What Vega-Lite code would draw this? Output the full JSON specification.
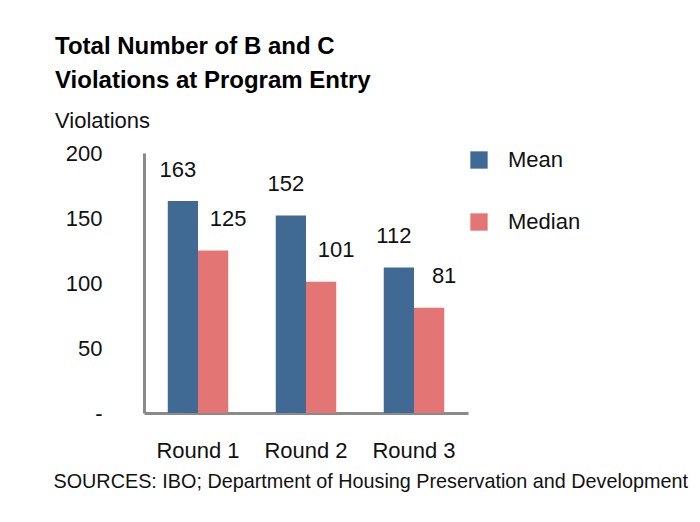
{
  "$schema": "https://vega.github.io/schema/vega-lite/v6.json",
  "autosize": {"type": "none"},
  "width": 324,
  "height": 260,
  "padding": {"left": 144, "top": 153, "right": 232, "bottom": 109},
  "background": "white",
  "data": {"values": [
    {"round": "Round 1", "stat": "Mean", "value": 163},
    {"round": "Round 1", "stat": "Median", "value": 125},
    {"round": "Round 2", "stat": "Mean", "value": 152},
    {"round": "Round 2", "stat": "Median", "value": 101},
    {"round": "Round 3", "stat": "Mean", "value": 112},
    {"round": "Round 3", "stat": "Median", "value": 81}
  ]},
  "title": {
    "text": ["Total Number of B and C", "Violations at Program Entry"],
    "subtitle": "Violations",
    "anchor": "start",
    "frame": "group",
    "dx": -89,
    "font": "Liberation Sans",
    "fontSize": 24,
    "fontWeight": "bold",
    "lineHeight": 34,
    "color": "#000000",
    "subtitleFont": "Liberation Sans",
    "subtitleFontSize": 22,
    "subtitleColor": "#111111",
    "subtitlePadding": 18,
    "offset": 10
  },
  "encoding": {
    "x": {
      "field": "round",
      "type": "nominal",
      "scale": {"paddingInner": 0.44, "paddingOuter": 0.22},
      "axis": {
        "title": "SOURCES: IBO; Department of Housing Preservation and Development",
        "titleFont": "Liberation Sans",
        "titleFontSize": 19.8,
        "titleFontWeight": "normal",
        "titleColor": "#111111",
        "titleAnchor": "start",
        "titleAlign": "left",
        "titleX": -91,
        "titleY": 68,
        "titleBaseline": "middle",
        "labelAngle": 0,
        "labelFont": "Liberation Sans",
        "labelFontSize": 22,
        "labelColor": "#111111",
        "labelPadding": 27,
        "ticks": false,
        "domainColor": "#8a8a8a",
        "domainWidth": 3
      }
    },
    "xOffset": {"field": "stat", "type": "nominal"},
    "y": {
      "field": "value",
      "type": "quantitative",
      "scale": {"domain": [0, 200]},
      "axis": {
        "title": null,
        "values": [0, 50, 100, 150, 200],
        "labelExpr": "datum.value == 0 ? '-' : datum.label",
        "labelFont": "Liberation Sans",
        "labelFontSize": 22,
        "labelColor": "#111111",
        "labelPadding": 42,
        "ticks": false,
        "grid": false,
        "domainColor": "#8a8a8a",
        "domainWidth": 3
      }
    }
  },
  "layer": [
    {
      "mark": {"type": "bar"},
      "encoding": {
        "color": {
          "field": "stat",
          "type": "nominal",
          "scale": {"domain": ["Mean", "Median"], "range": ["#406A94", "#E47575"]},
          "legend": {
            "title": null,
            "orient": "none",
            "legendX": 324,
            "legendY": -4,
            "symbolType": "square",
            "symbolSize": 300,
            "symbolStrokeWidth": 0,
            "labelFont": "Liberation Sans",
            "labelFontSize": 22,
            "labelColor": "#111111",
            "labelOffset": 18,
            "rowPadding": 40,
            "encode": {
              "symbols": {"update": {"fill": {"signal": "datum.label === 'Mean' ? '#4F81BD' : '#E57575'"}, "stroke": {"value": null}}}
            }
          }
        }
      }
    },
    {
      "transform": [{"filter": "datum.stat === 'Mean'"}],
      "mark": {"type": "text", "baseline": "middle", "dy": -31, "dx": -5, "font": "Liberation Sans", "fontSize": 22, "color": "#111111"},
      "encoding": {"text": {"field": "value", "type": "quantitative"}}
    },
    {
      "transform": [{"filter": "datum.stat === 'Median'"}],
      "mark": {"type": "text", "baseline": "middle", "dy": -32, "dx": 15, "font": "Liberation Sans", "fontSize": 22, "color": "#111111"},
      "encoding": {"text": {"field": "value", "type": "quantitative"}}
    }
  ],
  "config": {"view": {"stroke": null}}
}
